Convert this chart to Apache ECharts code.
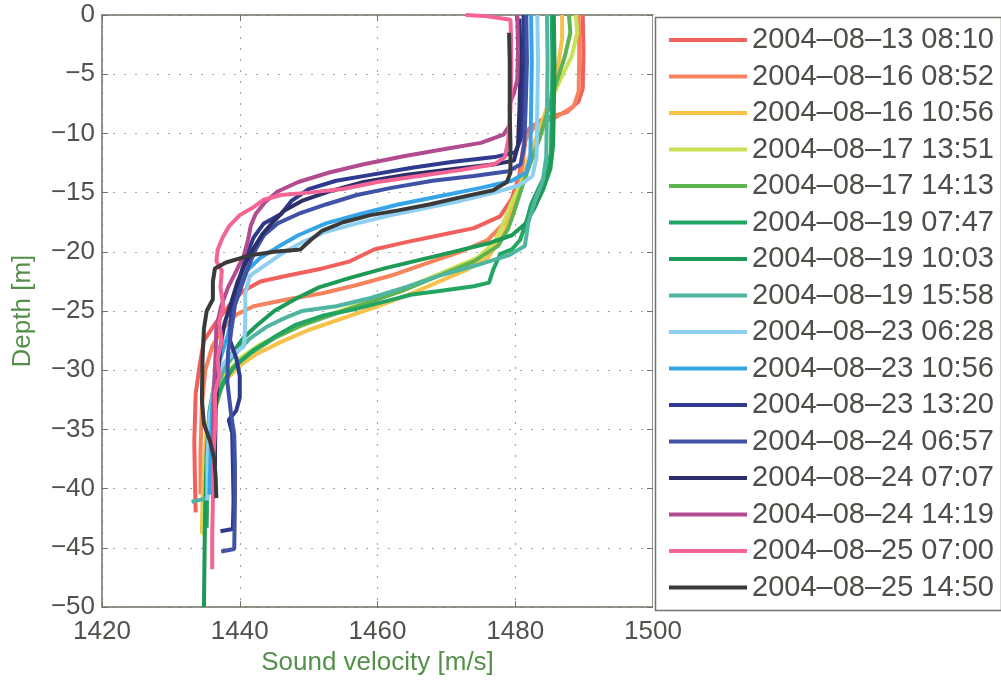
<!DOCTYPE html>
<html>
<head>
<meta charset="utf-8">
<script src="https://cdn.jsdelivr.net/npm/echarts@6/dist/echarts.min.js"></script>
<style>
html,body{margin:0;padding:0;background:#fff;}
#chart{width:1001px;height:681px;}
</style>
</head>
<body>
<div id="chart"></div>
<script>
// ---- tick values ----
const xTicks = [1420, 1440, 1460, 1480, 1500];
const yTicks = [0, -5, -10, -15, -20, -25, -30, -35, -40, -45, -50];

// ---- legend labels (profile times) ----
const labels = [
  '2004–08–13 08:10', '2004–08–16 08:52', '2004–08–16 10:56', '2004–08–17 13:51',
  '2004–08–17 14:13', '2004–08–19 07:47', '2004–08–19 10:03', '2004–08–19 15:58',
  '2004–08–23 06:28', '2004–08–23 10:56', '2004–08–23 13:20', '2004–08–24 06:57',
  '2004–08–24 07:07', '2004–08–24 14:19', '2004–08–25 07:00', '2004–08–25 14:50'
];

// ---- profiles: [sound velocity m/s, depth m] ----
const p0813_0810 = [[1489.8,0],[1489.9,-3],[1489.8,-6.2],[1489.2,-7.3],[1487.5,-8.2],[1484,-8.8],[1482,-9.6],[1481.2,-11],[1480.6,-13.5],[1479.5,-15.5],[1477.8,-17],[1474,-18],[1469,-18.6],[1464,-19.2],[1459.5,-19.8],[1456,-20.8],[1452,-21.4],[1447,-22],[1443,-22.5],[1440.5,-23.3],[1438.5,-24.5],[1436.5,-26],[1434.8,-27.5],[1434.2,-29.5],[1433.6,-32],[1433.4,-36],[1433.5,-39.5],[1433.6,-42]];
const p0816_0852 = [[1489.2,0],[1489.3,-3],[1489.2,-6.5],[1488.5,-7.7],[1486,-8.6],[1483,-9.3],[1481.5,-10.5],[1481,-13],[1480,-15.5],[1478.5,-17.5],[1476,-19],[1472,-20],[1467,-21],[1462,-22],[1457,-22.8],[1452,-23.5],[1447,-24],[1442,-24.6],[1439.5,-25.3],[1437.5,-26.5],[1436,-28],[1435,-30],[1434.5,-33],[1434.3,-37],[1434.3,-40.5]];
const p0816_1056 = [[1486.8,0],[1486.8,-2],[1486.3,-4],[1485.5,-6],[1484.5,-8],[1483.3,-10],[1482,-12],[1481,-14],[1480,-16],[1479,-17.5],[1477.8,-19],[1476,-20.5],[1473,-21.5],[1469,-22.5],[1465,-23.5],[1460,-24.6],[1455,-25.6],[1450,-26.6],[1446,-27.6],[1442.5,-28.6],[1440,-29.6],[1438,-30.8],[1436.3,-32.5],[1435.2,-35],[1434.8,-38],[1434.6,-41],[1434.5,-43.8]];
const p0817_1351 = [[1488.8,0],[1489,-1.5],[1488.2,-3.5],[1486.5,-5.5],[1485,-7.5],[1484,-9.5],[1482.5,-12],[1481,-14],[1479.5,-15.8],[1478.3,-17.5],[1477,-19.2],[1474.5,-20.5],[1470,-21.6],[1466,-22.6],[1462,-23.5],[1457,-24.5],[1452,-25.5],[1447,-26.7],[1443,-27.8],[1440,-29],[1438,-30.3],[1436.5,-32],[1435.5,-35],[1435,-39],[1434.8,-42.5],[1434.8,-44]];
const p0817_1413 = [[1487.8,0],[1488,-1.5],[1487.2,-3.5],[1485.8,-6],[1484.5,-8.5],[1483.5,-10.5],[1482.2,-12.5],[1481,-14.5],[1480,-16.3],[1479,-18],[1477.5,-19.5],[1474,-20.8],[1469,-22],[1464,-23.2],[1459,-24.2],[1454,-25.2],[1449,-26.2],[1445,-27.3],[1441.5,-28.6],[1439,-29.8],[1437.5,-31.2],[1436.3,-33.5],[1435.6,-37],[1435.3,-40],[1435.2,-42.5]];
const p0819_0747 = [[1485.3,0],[1485.4,-4],[1485.3,-8],[1485.2,-11.5],[1484.8,-13],[1483.5,-14.5],[1482.3,-16],[1481.6,-17.5],[1480.7,-19],[1479.5,-19.8],[1477.8,-20.2],[1476.8,-21.5],[1476.2,-22.6],[1474,-22.9],[1469,-23.3],[1465,-23.6],[1461,-24.2],[1457,-24.8],[1452,-25.4],[1448,-26.2],[1445,-27.2],[1442,-28.3],[1439.5,-29.5],[1437.8,-30.8],[1436.5,-32.5],[1435.8,-35],[1435.4,-38],[1435.2,-41],[1435.2,-43.3]];
const p0819_1003 = [[1485.6,0],[1485.7,-4],[1485.6,-8],[1485.5,-11],[1485.1,-13],[1484,-14.8],[1482.8,-16.3],[1481.5,-17.6],[1479.5,-18.6],[1476,-19.3],[1471,-20],[1466,-20.7],[1461,-21.4],[1456,-22.2],[1451.5,-23],[1448,-24],[1445,-25],[1442.5,-26.2],[1440.5,-27.3],[1439,-28.5],[1437.6,-29.7],[1436.3,-31.2],[1435.6,-33.5],[1435.2,-37],[1435,-41],[1434.9,-45],[1434.8,-50]];
const p0819_1558 = [[1484.6,0],[1484.7,-4],[1484.6,-8],[1484.5,-12],[1484,-14],[1482.8,-15.8],[1481.9,-17.5],[1481.4,-19.5],[1479,-20.3],[1474,-21.2],[1469,-22],[1464,-23],[1459,-23.9],[1454,-24.6],[1449,-25],[1446.5,-25.6],[1444,-26.3],[1441.5,-27.3],[1439.5,-28.5],[1437.8,-29.8],[1436.6,-31.5],[1436,-34],[1435.6,-37],[1435.3,-40.8],[1433,-41.1]];
const p0823_0628 = [[1483.2,0],[1483.3,-4],[1483.2,-8],[1483.1,-12],[1482.5,-13.6],[1480.5,-14.4],[1477,-15],[1472,-15.7],[1467,-16.3],[1462,-16.9],[1457,-17.6],[1452.5,-18.3],[1449,-19.2],[1446,-20.2],[1443.5,-21.2],[1441.5,-22],[1440.8,-23.5],[1440.8,-26],[1440.6,-28],[1439,-28.6],[1437.5,-29.5],[1436.3,-31],[1435.6,-34],[1435.3,-37.5],[1435.3,-41]];
const p0823_1056 = [[1482.3,0],[1482.4,-4],[1482.3,-8],[1482.2,-12],[1481.6,-13.3],[1479.5,-14],[1475,-14.6],[1469,-15.3],[1463,-16],[1457.5,-16.8],[1452.5,-17.6],[1448.5,-18.6],[1445.5,-19.6],[1443,-20.5],[1441,-21.6],[1439.8,-23],[1439,-25],[1438.3,-27],[1437.3,-28.8],[1436.4,-30.5],[1436,-33],[1435.8,-36.5],[1435.6,-40.5]];
const p0823_1320 = [[1481.2,0],[1481.3,-4],[1481.1,-8],[1480.8,-10.5],[1480,-11.6],[1477,-12],[1471,-12.4],[1465,-12.9],[1459,-13.5],[1454,-14],[1450,-14.7],[1447.5,-15.7],[1446,-16.8],[1443.5,-17.6],[1442,-18.8],[1441,-20.3],[1440.2,-21.8],[1439.4,-23.3],[1438.7,-25.5],[1438.6,-27.5],[1439.5,-29],[1440,-30.5],[1440,-32.3],[1439.5,-33.4],[1438.4,-34.2],[1438.9,-35.3],[1439,-38],[1439.1,-41],[1439,-43.4],[1437.2,-43.6]];
const p0824_0657 = [[1481.6,0],[1481.7,-4],[1481.5,-8],[1481.3,-11],[1480.8,-12.6],[1479,-13.2],[1474,-13.6],[1468,-14],[1462,-14.6],[1457,-15.2],[1452.5,-16],[1448.5,-16.8],[1445.5,-17.6],[1443.5,-18.6],[1442.3,-19.8],[1441.3,-21.2],[1440.3,-22.8],[1439.3,-24.5],[1438.8,-26.5],[1438.3,-28.5],[1438.2,-31],[1438.7,-33.5],[1439.2,-35.5],[1439.3,-38],[1439.3,-41],[1439.2,-45.1],[1437.3,-45.3]];
const p0824_0707 = [[1480.6,-0.3],[1480.8,-4],[1480.6,-8],[1480.4,-11],[1479.8,-12.3],[1477,-12.6],[1471,-13],[1464,-13.5],[1458,-14.1],[1453,-14.9],[1449,-15.7],[1446.5,-16.5],[1444.8,-17.5],[1443.3,-18.5],[1442,-19.7],[1440.8,-21],[1439.7,-22.5],[1438.8,-24.2],[1437.8,-26],[1437.2,-28],[1436.8,-30.5],[1436.5,-33.5],[1436.4,-37],[1436.4,-40.2]];
const p0824_1419 = [[1480.3,0],[1480.4,-3],[1480.3,-5.5],[1479.8,-6.6],[1479.2,-7.5],[1479.2,-9.3],[1478.3,-10.1],[1475,-10.8],[1470,-11.3],[1464,-11.9],[1458,-12.6],[1453,-13.3],[1448.5,-14.1],[1445.5,-14.9],[1443.7,-15.8],[1442.3,-16.8],[1441.6,-17.8],[1441.2,-19],[1440.6,-20.3],[1439.6,-21.5],[1438.3,-23],[1437.3,-24.6],[1436.6,-26.4],[1436.5,-28.5],[1436.3,-31],[1436.2,-34],[1436.1,-37.2]];
const p0825_0700 = [[1472.8,0],[1476,-0.1],[1479.3,-0.4],[1479.4,-2],[1479.4,-5],[1479.3,-8],[1479,-10.5],[1478.5,-12],[1477,-12.6],[1472,-13.1],[1466,-13.6],[1460,-14.1],[1455,-14.7],[1450,-15],[1446,-15.2],[1443.5,-15.6],[1441.8,-16.3],[1440,-16.9],[1438.5,-17.8],[1437.5,-18.8],[1436.8,-19.8],[1436.6,-20.8],[1437.4,-21.6],[1437.2,-23],[1437.6,-24.5],[1437,-26],[1437.4,-27.5],[1436.8,-29],[1437,-30.5],[1436.4,-32],[1436.5,-34],[1436.2,-37],[1436.1,-41],[1436,-44],[1436,-46.8]];
const p0825_1450 = [[1479.1,-1.5],[1479.2,-4],[1479.2,-8],[1479.3,-11],[1479.3,-13.3],[1478.8,-14.1],[1476.8,-14.8],[1472,-15.4],[1467.5,-16],[1463,-16.5],[1459,-16.9],[1455,-17.5],[1452,-18.2],[1450.3,-19],[1448.8,-19.8],[1445,-20],[1441.5,-20.3],[1438,-20.9],[1436.4,-21.4],[1436.1,-22.5],[1436.1,-24],[1435.2,-25],[1434.8,-26.5],[1434.6,-29],[1434.5,-32.5],[1434.8,-34.5],[1435.7,-36],[1436.3,-37.5],[1436.5,-39],[1436.6,-40.8]];

const profiles = [p0813_0810, p0816_0852, p0816_1056, p0817_1351, p0817_1413, p0819_0747, p0819_1003, p0819_1558,
                  p0823_0628, p0823_1056, p0823_1320, p0824_0657, p0824_0707, p0824_1419, p0825_0700, p0825_1450];

// ---- colours (style) ----
const colors = ['#f2605e','#f5845e','#f7c24a','#c9e255','#5fb250','#22a562','#1e9a57','#4fb5a0',
                '#8dcff0','#35a5e8','#2f3a8e','#3f52a6','#2c2f6a','#b24b90','#f46596','#3a3a3a'];

const FONT = 'Liberation Sans';
const axisColor = '#6e7468';
const labelColor = '#4e544b';
const nameColor = '#55904a';

const chart = echarts.init(document.getElementById('chart'), null, {renderer: 'canvas'});

const series = profiles.map((p, i) => ({
  name: labels[i],
  type: 'line',
  data: p,
  showSymbol: false,
  symbol: 'none',
  color: colors[i],
  lineStyle: {width: 4, color: colors[i]},
  emphasis: {disabled: true},
  silent: true,
  z: 2 + i
}));

const option = {
  animation: false,
  backgroundColor: '#ffffff',
  textStyle: {fontFamily: FONT},
  grid: {left: 102, top: 15, width: 551, height: 593},
  xAxis: [{
    type: 'value', min: xTicks[0], max: xTicks[xTicks.length - 1], interval: 20,
    name: 'Sound velocity [m/s]', nameLocation: 'middle', nameGap: 42,
    nameTextStyle: {fontSize: 26, color: nameColor, fontFamily: FONT},
    axisLine: {show: true, onZero: false, lineStyle: {color: axisColor, width: 1.5}},
    axisTick: {show: true, inside: true, length: 6, lineStyle: {color: axisColor}},
    axisLabel: {fontSize: 26, color: labelColor, margin: 12, fontFamily: FONT,
                formatter: v => String(v)},
    splitLine: {show: true, lineStyle: {type: [2, 9], color: '#a4a8a0', width: 1.2}}
  }, {
    type: 'value', position: 'top', min: xTicks[0], max: xTicks[xTicks.length - 1], interval: 20,
    axisLine: {show: true, onZero: false, lineStyle: {color: axisColor, width: 1.5}},
    axisTick: {show: true, inside: true, length: 6, lineStyle: {color: axisColor}},
    axisLabel: {show: false}, splitLine: {show: false}
  }],
  yAxis: [{
    type: 'value', min: yTicks[yTicks.length - 1], max: yTicks[0], interval: 5,
    name: 'Depth [m]', nameLocation: 'middle', nameGap: 66, nameRotate: 90,
    nameTextStyle: {fontSize: 26, color: nameColor, fontFamily: FONT},
    axisLine: {show: true, onZero: false, lineStyle: {color: axisColor, width: 1.5}},
    axisTick: {show: true, inside: true, length: 6, lineStyle: {color: axisColor}},
    axisLabel: {fontSize: 26, color: labelColor, margin: 7, fontFamily: FONT,
                formatter: v => String(v).replace('-', '\u2212')},
    splitLine: {show: true, lineStyle: {type: [2, 9], color: '#a4a8a0', width: 1.2}}
  }, {
    type: 'value', position: 'right', min: yTicks[yTicks.length - 1], max: yTicks[0], interval: 5,
    axisLine: {show: true, onZero: false, lineStyle: {color: axisColor, width: 1.5}},
    axisTick: {show: true, inside: true, length: 6, lineStyle: {color: axisColor}},
    axisLabel: {show: false}, splitLine: {show: false}
  }],
  legend: {
    orient: 'vertical', left: 653, top: 15, padding: [10, 4, 10, 16],
    itemWidth: 78, itemHeight: 4, itemGap: 6.5, icon: 'rect',
    selectedMode: false,
    backgroundColor: '#ffffff',
    textStyle: {fontSize: 29, lineHeight: 30, color: '#4a4f47', fontFamily: FONT},
    data: labels
  },
  graphic: [{
    type: 'rect', left: 653, top: 15, z: 100, silent: true,
    shape: {width: 346, height: 593},
    style: {fill: 'none', stroke: axisColor, lineWidth: 1.5}
  }],
  series: series
};
chart.setOption(option);
</script>
</body>
</html>
